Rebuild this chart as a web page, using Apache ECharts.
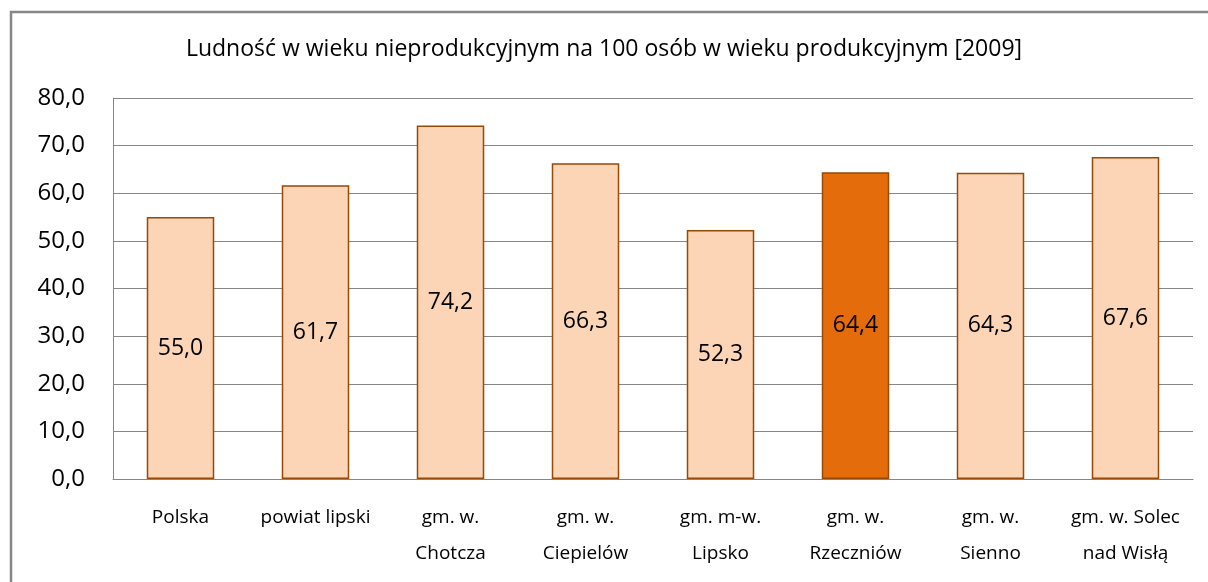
<!DOCTYPE html>
<html>
<head>
<meta charset="utf-8">
<script src="https://cdn.jsdelivr.net/npm/echarts@6/dist/echarts.min.js"></script>
<style>
  html, body { margin: 0; padding: 0; background: #fff; }
  #chart { width: 1208px; height: 582px; }
</style>
</head>
<body>
<div id="chart"></div>
<script>
// dane
const categories = ['Polska', 'powiat lipski', 'gm. w.\nChotcza', 'gm. w.\nCiepielów', 'gm. m-w.\nLipsko', 'gm. w.\nRzeczniów', 'gm. w.\nSienno', 'gm. w. Solec\nnad Wisłą']
const values = [55.0, 61.7, 74.2, 66.3, 52.3, 64.4, 64.3, 67.6]
const highlightIndex = 5

const fmt = v => v.toFixed(1).replace('.', ',')
const fontFamily = 'Open Sans, Noto Sans, sans-serif'

const chart = echarts.init(document.getElementById('chart'))

chart.setOption({
  animation: false,
  title: {
    text: 'Ludność w wieku nieprodukcyjnym na 100 osób w wieku produkcyjnym [2009]',
    left: 'center',
    top: 33,
    textStyle: { fontFamily, fontSize: 23, fontWeight: 'normal', color: '#000' }
  },
  graphic: [{
    type: 'rect',
    shape: { x: 11, y: 12, width: 1220, height: 600 },
    style: { fill: 'none', stroke: '#868686', lineWidth: 2.5 },
    silent: true
  }],
  grid: { left: 113, top: 98, right: 15, bottom: 103 },
  xAxis: {
    type: 'category',
    data: categories,
    axisLine: { show: true, lineStyle: { color: '#868686', width: 1 } },
    axisTick: { show: false },
    axisLabel: {
      interval: 0,
      margin: 21,
      lineHeight: 36,
      fontFamily,
      fontSize: 19,
      color: '#000'
    }
  },
  yAxis: {
    type: 'value',
    min: 0,
    max: 80,
    interval: 10,
    axisLine: { show: true, lineStyle: { color: '#868686', width: 1 } },
    axisTick: { show: false },
    splitLine: { lineStyle: { color: '#868686', width: 1 } },
    axisLabel: {
      margin: 28,
      fontFamily,
      fontSize: 24,
      color: '#000',
      formatter: v => fmt(v)
    }
  },
  series: [{
    type: 'bar',
    barWidth: '50%',
    data: values.map((v, i) => ({
      value: v,
      itemStyle: i === highlightIndex
        ? { color: '#E46C0A', borderColor: '#984807', borderWidth: 1.5 }
        : { color: '#FBD5B5', borderColor: '#984807', borderWidth: 1.5 }
    })),
    label: {
      show: true,
      position: 'inside',
      fontFamily,
      fontSize: 23,
      color: '#000',
      formatter: p => fmt(p.value)
    }
  }]
})
</script>
</body>
</html>
